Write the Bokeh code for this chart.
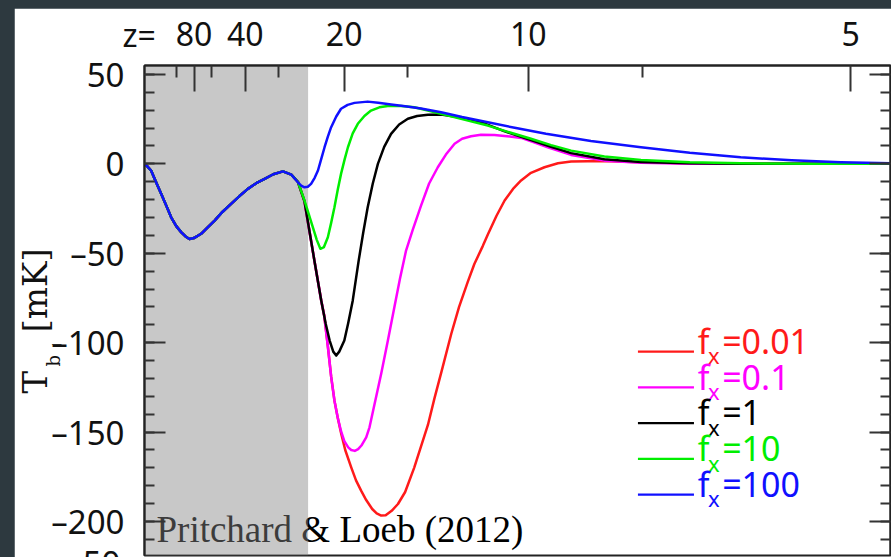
import math
from bokeh.plotting import figure
from bokeh.models import LinearAxis, FixedTicker, BoxAnnotation, Range1d, CustomJSTickFormatter
from bokeh.layouts import row
from bokeh.embed import file_html
from bokeh.resources import INLINE
from bokeh.core.properties import value

# ---------------- data (nu in MHz, T_b in mK) ----------------
nu_common = [1.0, 2.0, 3.2, 4.8, 6.6, 8.3, 9.9, 11.6, 13.3, 14.7, 16.0, 17.5, 19.9, 22.0, 24.4,
             27.0, 29.9, 32.7, 35.5, 38.3, 41.1, 44.0, 47.2]
T_common = [0.0, -1.5, -3.7, -10.0, -16.8, -23.5, -29.9, -34.8, -38.3, -40.6, -42.0, -41.5, -39.1,
            -35.6, -31.7, -26.9, -22.4, -18.0, -14.0, -10.8, -8.4, -5.8, -4.2]

nu_blue = [50.0, 52.2, 53.3, 54.4, 55.5, 56.6, 57.8, 58.9, 60.0, 61.1, 62.2, 63.3, 65.0, 66.6, 68.8,
           71.1, 75.5, 79.0, 83.3, 88.0, 93.3, 100.0, 107.0, 115.6, 125.0, 135.0, 150.0, 166.7,
           183.0, 200.0, 217.0, 233.4, 250.0]
T_blue = [-6.0, -10.3, -12.2, -13.1, -12.8, -11.2, -7.8, -3.7, 2.8, 9.3, 15.2, 20.5, 26.5, 30.8,
          33.0, 34.1, 34.8, 34.2, 33.2, 32.2, 31.0, 28.9, 26.2, 23.3, 20.0, 16.8, 12.8, 9.3, 6.2,
          3.7, 2.0, 0.9, 0.3]

nu_green = [50.0, 52.2, 54.4, 55.8, 57.2, 58.5, 59.7, 60.9, 62.2, 63.3, 64.4, 65.5, 66.6, 67.8,
            68.9, 70.5, 72.2, 74.4, 76.6, 79.4, 82.2, 86.7, 91.1, 100.0, 107.0, 115.6, 123.0,
            130.0, 136.7, 143.4, 154.5, 166.7, 183.0, 200.0, 225.0, 250.0]
T_green = [-6.0, -10.0, -20.5, -28.0, -35.5, -42.5, -47.5, -46.5, -41.0, -33.0, -24.3, -14.5,
           -5.6, 2.5, 9.3, 17.0, 22.4, 26.8, 29.8, 31.6, 32.4, 32.3, 31.7, 28.0, 25.0, 21.4, 17.5,
           14.0, 10.5, 7.4, 4.1, 2.2, 0.9, 0.3, 0.1, 0.0]

nu_black = [50.0, 52.2, 54.4, 55.8, 57.7, 60.0, 61.5, 62.8, 64.0, 65.0, 66.0, 67.7, 69.0, 70.5,
            72.5, 74.0, 75.5, 77.2, 78.9, 81.0, 83.3, 86.0, 88.9, 92.0, 95.6, 100.0, 104.4, 113.3,
            121.0, 130.0, 136.7, 143.4, 154.5, 166.7, 183.0, 200.0, 250.0]
T_black = [-6.0, -10.0, -21.0, -35.0, -54.0, -76.5, -89.5, -98.8, -105.0, -107.2, -105.0, -98.8,
           -89.0, -76.5, -54.0, -38.5, -24.3, -11.0, 0.0, 9.5, 16.8, 22.0, 25.2, 26.8, 27.4, 27.6,
           26.5, 23.3, 18.3, 13.3, 9.6, 6.0, 2.6, 1.0, 0.3, 0.1, 0.0]

nu_magenta = [50.0, 52.2, 54.4, 55.8, 57.7, 60.0, 61.0, 62.2, 63.3, 64.4, 65.5, 66.6, 67.7, 69.0,
              70.0, 71.2, 72.3, 73.4, 75.0, 76.1, 77.7, 80.0, 82.2, 84.4, 86.3, 88.3, 90.5, 93.3,
              96.0, 98.9, 101.6, 104.5, 107.0, 110.0, 113.3, 117.8, 122.0, 126.7, 131.0, 135.6,
              143.4, 154.5, 166.7, 183.0, 250.0]
T_magenta = [-6.0, -10.0, -21.0, -35.0, -54.0, -76.5, -85.0, -102.0, -119.0, -132.4, -142.0,
             -149.5, -155.0, -158.5, -160.0, -160.5, -159.5, -157.5, -153.0, -147.3, -135.0,
             -117.4, -99.0, -80.2, -64.0, -48.5, -37.0, -23.4, -11.0, -1.9, 5.2, 11.2, 14.0,
             15.4, 16.3, 16.2, 15.5, 14.5, 12.0, 9.3, 5.0, 1.8, 0.6, 0.1, 0.0]

nu_red = [50.0, 52.2, 54.4, 55.8, 57.7, 60.0, 61.0, 62.2, 63.3, 64.4, 65.5, 66.6, 68.0, 70.0,
          71.6, 73.3, 75.0, 77.0, 78.5, 80.0, 81.5, 83.5, 85.6, 88.0, 91.0, 93.3, 95.6, 97.8,
          100.0, 103.4, 106.0, 108.9, 111.1, 113.9, 115.6, 118.5, 121.2, 124.0, 126.7, 130.0,
          134.5, 139.0, 143.4, 154.5, 166.7, 183.0, 200.0, 250.0]
T_red = [-6.0, -10.0, -21.0, -35.0, -54.0, -76.5, -85.0, -102.0, -119.0, -132.4, -142.0, -150.5,
         -160.0, -169.7, -177.0, -182.7, -188.0, -193.0, -195.5, -196.7, -196.5, -194.0, -190.2,
         -183.5, -170.0, -158.0, -146.0, -131.0, -117.0, -95.0, -80.0, -66.0, -56.0, -46.0,
         -39.5, -29.0, -20.5, -14.0, -9.3, -5.0, -1.9, 0.3, 1.3, 1.6, 0.9, 0.3, 0.1, 0.0]

series_labels = ["0.01", "0.1", "1", "10", "100"]
series_colors = ["#ff1a1a", "#ff00ff", "#000000", "#00ee00", "#1010ff"]
series_nu = [nu_red, nu_magenta, nu_black, nu_green, nu_blue]
series_T = [T_red, T_magenta, T_black, T_green, T_blue]

z_major = [80, 40, 20, 10, 5]
z_minor = [120, 60, 30, 15, 7.5]
y_major = [-200, -150, -100, -50, 0, 50]
y_minor = list(range(-210, 60, 10))
NU21 = 1420.4
shade_nu_max = 55.6   # end of the grey (dark ages) region

W, H = 877, 549
SANS = "Noto Sans"
SERIF = "Liberation Serif"
TSERIF = "DejaVu Serif"
TICKC = "#333333"
FRAMEC = "#222222"
TXTC = "#111111"

# ---------------- main figure ----------------
p = figure(width=W, height=H, x_range=Range1d(1, 250), y_range=Range1d(-219, 55),
           x_axis_location="above", output_backend="svg", toolbar_location=None,
           min_border_left=130, min_border_right=1, min_border_top=57, min_border_bottom=2)
p.margin = (8, 0, 0, 14)
p.frame_align = False
p.title.visible = False
p.grid.visible = False
p.background_fill_color = "white"
p.border_fill_color = "white"
p.outline_line_color = FRAMEC
p.outline_line_width = 2


def style_axis(ax, tin, tmin):
    ax.major_tick_in = tin
    ax.major_tick_out = 0
    ax.minor_tick_in = tmin
    ax.minor_tick_out = 0
    ax.major_tick_line_color = TICKC
    ax.minor_tick_line_color = TICKC
    ax.major_tick_line_width = 2
    ax.minor_tick_line_width = 2
    ax.axis_line_color = FRAMEC
    ax.axis_line_width = 2
    ax.major_label_text_font = SANS
    ax.major_label_text_color = TXTC


# top axis: redshift labels
nu_major = [round(NU21 / (1 + z), 4) for z in z_major]
nu_minor = [round(NU21 / (1 + z), 4) for z in z_minor]
xa = p.xaxis[0]
xa.ticker = FixedTicker(ticks=nu_major, minor_ticks=nu_minor)
xa.major_label_overrides = {n: str(z) for n, z in zip(nu_major, z_major)}
style_axis(xa, 26, 12)
xa.major_label_text_font_size = "32px"
xa.major_label_standoff = 20

ya = p.yaxis[0]
ya.ticker = FixedTicker(ticks=y_major, minor_ticks=y_minor)
ya.formatter = CustomJSTickFormatter(code="return (tick < 0 ? '\\u2013' : '') + Math.abs(tick).toFixed(0);")
style_axis(ya, 21, 10)
ya.major_label_text_font_size = "33px"
ya.major_label_standoff = 20

ra = LinearAxis(ticker=FixedTicker(ticks=y_major, minor_ticks=y_minor))
ra.formatter = CustomJSTickFormatter(code="return '';")
style_axis(ra, 21, 10)
ra.major_label_text_font_size = "10px"
ra.major_label_standoff = 0
p.add_layout(ra, "right")

# citation text (underneath the grey overlay)
cit = p.text(x=[5.0], y=[-204.6], text=["Pritchard & Loeb (2012)"],
             text_font=value(SERIF), text_font_size="37px",
             text_color="black", text_baseline="middle", text_align="left")
cit.level = "image"

shade = BoxAnnotation(right=shade_nu_max, fill_color=(133, 133, 133), fill_alpha=0.45,
                      line_alpha=0, level="underlay")
p.add_layout(shade)

# curves
for nu, T, c in zip(series_nu, series_T, series_colors):
    p.line(nu_common + nu, T_common + T, line_color=c, line_width=2.5, line_join="round")

# legend (custom, with subscripts)
LEG_X0, LEG_X1, LEG_Y0, LEG_DY = 165.7, 184.4, -105.0, -20.0
for i, (lab, c) in enumerate(zip(series_labels, series_colors)):
    yy = LEG_Y0 + i * LEG_DY
    p.segment(x0=[LEG_X0], y0=[yy], x1=[LEG_X1], y1=[yy], line_color=c, line_width=2.2)
    p.text(x=[LEG_X1 + 1.3], y=[yy + 6.0], text=["f"], text_font=value(SANS), text_font_size="34px",
           text_color=c, text_baseline="middle", text_align="left")
    p.text(x=[LEG_X1 + 4.7], y=[yy - 2.0], text=["x"], text_font=value(SANS), text_font_size="22px",
           text_color=c, text_baseline="middle", text_align="left")
    p.text(x=[LEG_X1 + 9.4], y=[yy + 6.0], text=["=" + lab], text_font=value(SANS),
           text_font_size="34px", text_color=c, text_baseline="middle", text_align="left")

# ---------------- transparent overlay for texts outside the frame ----------------
o = figure(width=W, height=H, x_range=Range1d(0, W), y_range=Range1d(H, 0),
           x_axis_location=None, y_axis_location=None, output_backend="svg",
           toolbar_location=None, min_border=0,
           min_border_left=0, min_border_right=0, min_border_top=0, min_border_bottom=0)
o.margin = (8, 0, 0, -W)
o.frame_align = False
o.title.visible = False
o.grid.visible = False
o.outline_line_color = None
o.background_fill_alpha = 0
o.border_fill_alpha = 0

# "z=" prefix of the redshift labels
o.text(x=[108], y=[26], text=["z="], text_font=value(SANS), text_font_size="32px",
       text_color=TXTC, text_baseline="middle", text_align="left")
# y axis title  T_b [mK]  (rotated)
o.text(x=[20.2], y=[385], text=["T"], angle=math.pi / 2, text_font=value(TSERIF),
       text_font_size="34px", text_color=TXTC, text_baseline="middle", text_align="left")
o.text(x=[38.8], y=[358], text=["b"], angle=math.pi / 2, text_font=value(TSERIF),
       text_font_size="18px", text_color=TXTC, text_baseline="middle", text_align="left")
o.text(x=[41.1], y=[337.7], text=["|"], angle=math.pi / 2, text_font=value(TSERIF),
       text_font_size="10px", text_color=TXTC, text_baseline="middle", text_align="left")
o.text(x=[20.2], y=[324], text=["[mK]"], angle=math.pi / 2, text_font=value(TSERIF),
       text_font_size="34px", text_color=TXTC, text_baseline="middle", text_align="left")
# top of the next panel's tick label, cut by the picture edge
o.text(x=[106], y=[554], text=["50"], text_font=value(SANS), text_font_size="33px",
       text_color=TXTC, text_baseline="middle", text_align="right")

root = row(p, o, styles={"background-color": "#2d393f"})
open("out.html", "w").write(file_html(root, INLINE))
